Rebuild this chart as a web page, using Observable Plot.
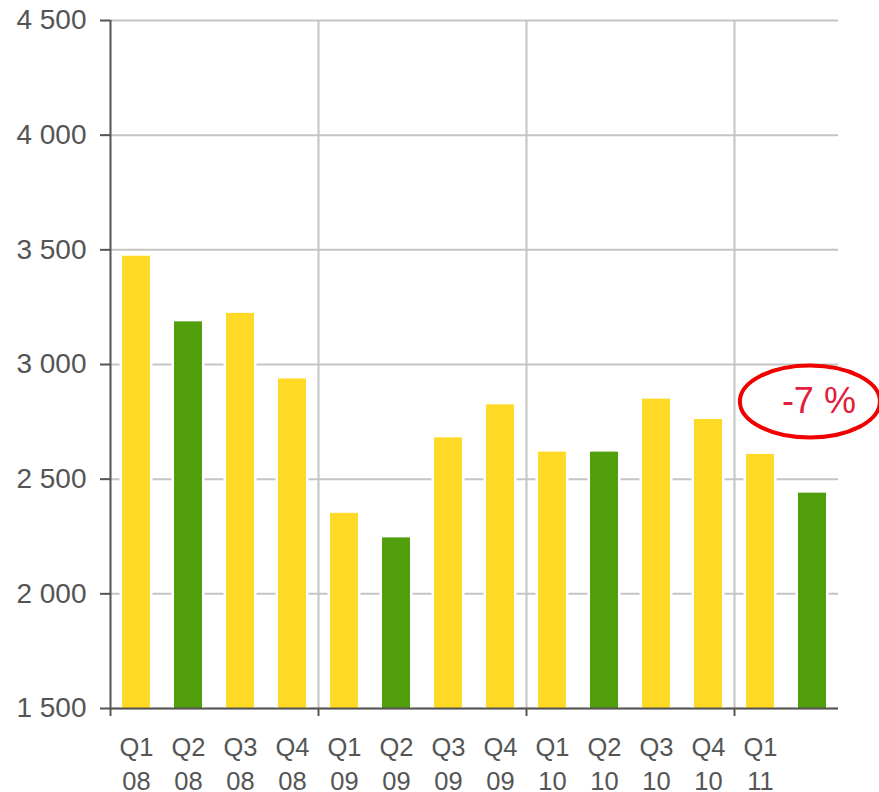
<!DOCTYPE html>
<html>
<head>
<meta charset="utf-8">
<script src="https://cdn.jsdelivr.net/npm/d3@7"></script>
<script src="https://cdn.jsdelivr.net/npm/@observablehq/plot@0.6"></script>
<style>
  html, body { margin: 0; padding: 0; background: #fff; }
  #chart { width: 879px; height: 792px; }
</style>
</head>
<body>
<div id="chart"></div>
<script>
// ---- data ----
const quarters = ["Q1 08","Q2 08","Q3 08","Q4 08","Q1 09","Q2 09","Q3 09","Q4 09","Q1 10","Q2 10","Q3 10","Q4 10","Q1 11","Q2 11"];
const values = [3472, 3186, 3223, 2937, 2351, 2244, 2680, 2824, 2618, 2618, 2849, 2760, 2608, 2439];
const groups = ["other","Q2","other","other","other","Q2","other","other","other","Q2","other","other","other","Q2"];
const quarterLabels = ["Q1","Q2","Q3","Q4","Q1","Q2","Q3","Q4","Q1","Q2","Q3","Q4","Q1",""];
const yearLabels = ["08","08","08","08","09","09","09","09","10","10","10","10","11",""];
const yTicks = [1500, 2000, 2500, 3000, 3500, 4000, 4500];
const yearStarts = [0, 4, 8, 12];
const yearBoundaries = [4, 8, 12];
const annotation = [{ x: 13.45, y: 2839, label: "-7 %" }];

// ---- build table ----
const data = quarters.map((q, i) => ({
  q, i, value: values[i], group: groups[i], quarter: quarterLabels[i], year: yearLabels[i]
}));

const fmt = d3.formatLocale({ decimal: ",", thousands: " ", grouping: [3] }).format(",d");

const ellipseSymbol = {
  draw(ctx) {
    const a = 70, b = 36, k = 0.5523;
    ctx.moveTo(a, 0);
    ctx.bezierCurveTo(a, b * k, a * k, b, 0, b);
    ctx.bezierCurveTo(-a * k, b, -a, b * k, -a, 0);
    ctx.bezierCurveTo(-a, -b * k, -a * k, -b, 0, -b);
    ctx.bezierCurveTo(a * k, -b, a, -b * k, a, 0);
    ctx.closePath();
  }
};

const textColor = "#555555";

const chart = Plot.plot({
  width: 879,
  height: 792,
  marginLeft: 110,
  marginRight: 41,
  marginTop: 20,
  marginBottom: 84,
  style: { fontFamily: "'Liberation Sans', Arial, sans-serif", background: "#fff", overflow: "visible" },
  x: { type: "linear", domain: [0, quarters.length] },
  y: { domain: [yTicks[0], yTicks[yTicks.length - 1]] },
  color: { domain: ["other", "Q2"], range: ["#ffd923", "#529f0e"] },
  marks: [
    Plot.gridY(yTicks, { stroke: "#c4c4c4", strokeOpacity: 1, strokeWidth: 2 }),
    Plot.ruleX(yearBoundaries, { stroke: "#c4c4c4", strokeWidth: 2 }),
    Plot.rectY(data, { x1: "i", x2: d => d.i + 1, y: "value", fill: "#fff", insetLeft: 9.5, insetRight: 9.5, clip: true }),
    Plot.rectY(data, { x1: "i", x2: d => d.i + 1, y: "value", fill: "group", insetLeft: 12, insetRight: 12, clip: true }),
    Plot.ruleX([0], { stroke: "#555", strokeWidth: 2 }),
    Plot.ruleY([yTicks[0]], { stroke: "#555", strokeWidth: 2 }),
    Plot.axisY({ ticks: yTicks, tickFormat: fmt, tickSize: 10, tickPadding: 14, fontSize: 28, stroke: "#555", fill: textColor, strokeWidth: 2 }),
    Plot.axisX({ ticks: yearStarts, tickFormat: () => "", tickSize: 8, stroke: "#555", strokeWidth: 2 }),
    Plot.text(data, { x: d => d.i + 0.5, text: "quarter", frameAnchor: "bottom", lineAnchor: "middle", dy: 39, fontSize: 25.5, fill: textColor }),
    Plot.text(data, { x: d => d.i + 0.5, text: "year", frameAnchor: "bottom", lineAnchor: "middle", dy: 73, fontSize: 25.5, fill: textColor }),
    Plot.dot(annotation, { x: "x", y: "y", symbol: ellipseSymbol, r: 40, stroke: "#f00000", strokeWidth: 4, fill: "none" }),
    Plot.text(annotation, { x: "x", y: "y", text: "label", dx: 9, fontSize: 36, fill: "#e3203c" })
  ]
});

document.getElementById("chart").appendChild(chart);
</script>
</body>
</html>
